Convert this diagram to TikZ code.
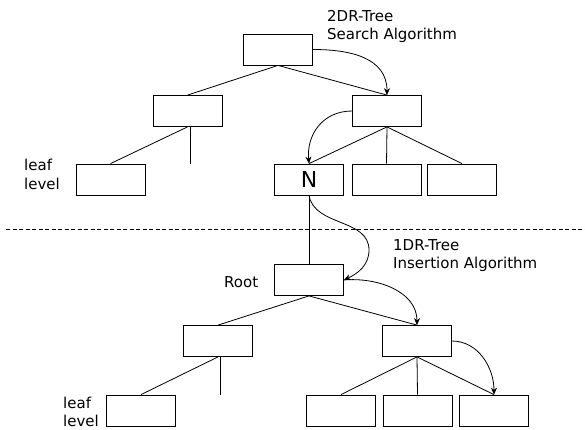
\documentclass[tikz,border=0pt]{standalone}
\usepackage{fontspec}
\setmainfont{DejaVu Sans}
\usetikzlibrary{arrows.meta}
\begin{document}
\begin{tikzpicture}[x=1pt,y=-1pt,
  every node/.style={font=\fontsize{15}{18.5}\selectfont},
  box/.style={draw,line width=0.8pt,minimum width=69pt,minimum height=31pt,inner sep=0pt},
  edge/.style={line width=0.8pt},
  flow/.style={line width=0.8pt,-{Stealth[length=7pt,width=6pt]}},
  lbl/.style={inner sep=0pt,anchor=north west,align=left}]
\useasboundingbox (0,0) rectangle (585,429);

% 2DR-tree (upper part)
\node[box] (t0) at (278,49.5) {};
\node[box] (ta) at (187.5,111) {};
\node[box] (tb) at (387,111) {};
\node[box] (tla) at (110.5,179.5) {};
\node[box,font=\fontsize{22}{24}\selectfont] (n) at (309,179.5) {N};
\node[box] (n2) at (386.5,179.5) {};
\node[box] (n3) at (462,179.5) {};
\coordinate (tstub) at (190,164);

\draw[edge] (t0.south) -- (ta.north);
\draw[edge] (t0.south) -- (tb.north);
\draw[edge] (ta.south) -- (tla.north);
\draw[edge] (ta.south -| tstub) -- (tstub);
\draw[edge] (tb.south) -- (n.north);
\draw[edge] (tb.south) -- (n2.north);
\draw[edge] (tb.south) -- (n3.north);

\draw[flow] (t0.east) to[out=0,in=90,looseness=1.1] (tb.north);
\draw[flow] (tb.west) to[out=180,in=95,looseness=1.1] (n.north);

\node[lbl] (tsearch) at (327,10) {2DR-Tree\\Search Algorithm};
\node[lbl] (tleaf) at (24,159) {leaf\\level};

% level separator
\coordinate (sepl) at (6,229);
\coordinate (sepr) at (585,229);
\draw[line width=0.7pt,dash pattern=on 4pt off 2.5pt] (sepl) -- (sepr);

% 1DR-tree (lower part)
\node[box] (r) at (309,280) {};
\node[box] (c) at (218,341) {};
\node[box] (d) at (417,341) {};
\node[box] (lc) at (141,410.5) {};
\node[box] (d1) at (341,410.5) {};
\node[box] (d2) at (417.5,410.5) {};
\node[box] (d3) at (494,410.5) {};
\coordinate (bstub) at (220,395);
\coordinate (swing) at (369,250);

\draw[edge] (n.south) -- (r.north);
\draw[edge] (r.south) -- (c.north);
\draw[edge] (r.south) -- (d.north);
\draw[edge] (c.south) -- (lc.north);
\draw[edge] (c.south -| bstub) -- (bstub);
\draw[edge] (d.south) -- (d1.north);
\draw[edge] (d.south) -- (d2.north);
\draw[edge] (d.south) -- (d3.north);

\draw[flow] (n.south) to[out=-80,in=90] (swing) to[out=-90,in=25] (r.east);
\draw[flow] (r.east) to[out=5,in=90] (d.north);
\draw[flow] (d.east) to[out=0,in=90] (d3.north);

\node[lbl] (binsert) at (393,239) {1DR-Tree\\Insertion Algorithm};
\node[inner sep=0pt,anchor=base west] (broot) at (224,287) {Root};
\node[lbl] (bleaf) at (63,396.5) {leaf\\level};
\end{tikzpicture}
\end{document}
